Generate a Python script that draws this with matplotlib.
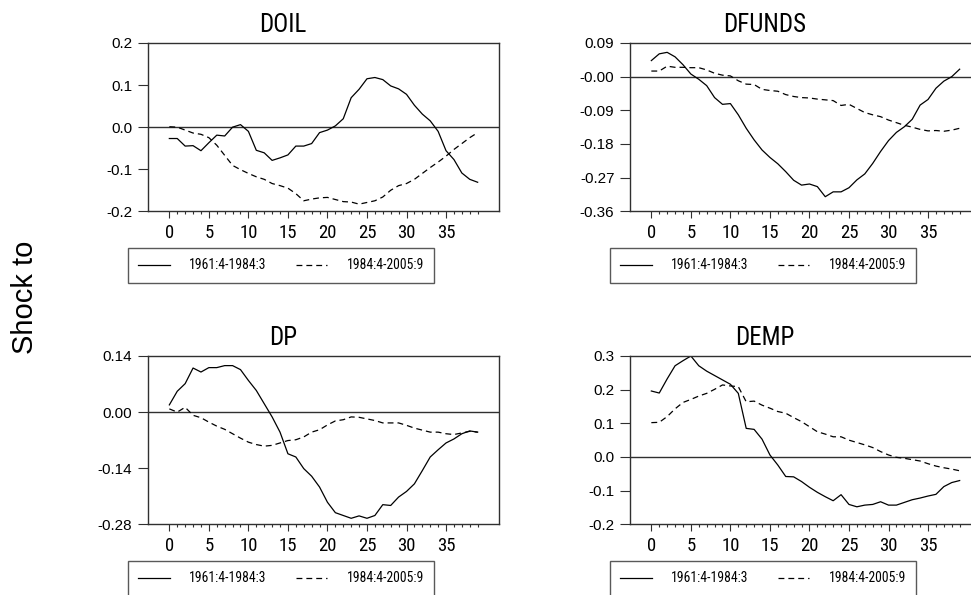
import numpy as np
import matplotlib.pyplot as plt

plt.rcParams["font.family"] = ["Roboto Condensed", "Liberation Sans", "DejaVu Sans"]

steps = np.arange(40)
period_labels = ["1961:4-1984:3", "1984:4-2005:9"]

# impulse responses
doil_early = [-0.027, -0.027, -0.045, -0.044, -0.056, -0.037, -0.019, -0.021, 0.000, 0.006,
              -0.010, -0.055, -0.061, -0.079, -0.073, -0.066, -0.045, -0.045, -0.039, -0.013,
              -0.007, 0.003, 0.020, 0.070, 0.090, 0.115, 0.118, 0.113, 0.098, 0.091,
              0.078, 0.052, 0.031, 0.015, -0.010, -0.056, -0.077, -0.109, -0.124, -0.131]
doil_late = [0.001, 0.000, -0.007, -0.014, -0.017, -0.025, -0.043, -0.067, -0.091, -0.101,
             -0.110, -0.118, -0.124, -0.134, -0.139, -0.145, -0.158, -0.175, -0.171, -0.168,
             -0.167, -0.172, -0.177, -0.178, -0.183, -0.179, -0.175, -0.166, -0.150, -0.139,
             -0.134, -0.124, -0.110, -0.096, -0.083, -0.069, -0.053, -0.039, -0.025, -0.013]

dfunds_early = [0.043, 0.061, 0.065, 0.053, 0.032, 0.007, -0.007, -0.024, -0.056, -0.074,
                -0.072, -0.102, -0.138, -0.169, -0.196, -0.216, -0.233, -0.254, -0.277, -0.290,
                -0.287, -0.294, -0.321, -0.308, -0.308, -0.297, -0.276, -0.260, -0.232, -0.200,
                -0.171, -0.149, -0.134, -0.114, -0.076, -0.061, -0.031, -0.012, 0.000, 0.020]
dfunds_late = [0.015, 0.015, 0.028, 0.025, 0.025, 0.024, 0.024, 0.018, 0.009, 0.004,
               0.002, -0.011, -0.020, -0.021, -0.034, -0.037, -0.039, -0.048, -0.053, -0.056,
               -0.057, -0.060, -0.062, -0.064, -0.077, -0.074, -0.085, -0.096, -0.102, -0.107,
               -0.116, -0.123, -0.130, -0.135, -0.141, -0.145, -0.144, -0.146, -0.143, -0.138]

dp_early = [0.018, 0.052, 0.071, 0.110, 0.100, 0.111, 0.111, 0.116, 0.116, 0.106,
            0.079, 0.054, 0.021, -0.012, -0.050, -0.104, -0.112, -0.141, -0.160, -0.187,
            -0.225, -0.251, -0.258, -0.265, -0.259, -0.265, -0.258, -0.231, -0.233, -0.212,
            -0.198, -0.179, -0.146, -0.112, -0.094, -0.077, -0.067, -0.054, -0.047, -0.050]
dp_late = [0.008, 0.000, 0.012, -0.008, -0.014, -0.025, -0.035, -0.043, -0.054, -0.065,
           -0.075, -0.081, -0.085, -0.083, -0.077, -0.071, -0.069, -0.062, -0.050, -0.044,
           -0.032, -0.022, -0.019, -0.012, -0.013, -0.017, -0.021, -0.027, -0.027, -0.027,
           -0.033, -0.040, -0.045, -0.050, -0.050, -0.054, -0.056, -0.052, -0.048, -0.050]

demp_early = [0.196, 0.190, 0.232, 0.271, 0.286, 0.300, 0.271, 0.255, 0.242, 0.229,
              0.216, 0.189, 0.085, 0.082, 0.053, 0.006, -0.024, -0.058, -0.059, -0.073,
              -0.090, -0.105, -0.118, -0.130, -0.112, -0.141, -0.148, -0.143, -0.141, -0.133,
              -0.143, -0.143, -0.135, -0.127, -0.122, -0.116, -0.111, -0.088, -0.076, -0.070]
demp_late = [0.102, 0.103, 0.120, 0.143, 0.162, 0.171, 0.181, 0.189, 0.201, 0.214,
             0.211, 0.209, 0.164, 0.166, 0.154, 0.145, 0.135, 0.130, 0.117, 0.105,
             0.090, 0.075, 0.068, 0.060, 0.060, 0.050, 0.043, 0.036, 0.028, 0.016,
             0.006, -0.001, -0.004, -0.008, -0.012, -0.020, -0.027, -0.032, -0.036, -0.041]

doil_ticks = [-0.2, -0.1, 0.0, 0.1, 0.2]
doil_ticklabels = ["-0.2", "-0.1", "0.0", "0.1", "0.2"]
dfunds_ticks = [-0.36, -0.27, -0.18, -0.09, 0.0, 0.09]
dfunds_ticklabels = ["-0.36", "-0.27", "-0.18", "-0.09", "-0.00", "0.09"]
dp_ticks = [-0.28, -0.14, 0.0, 0.14]
dp_ticklabels = ["-0.28", "-0.14", "0.00", "0.14"]
demp_ticks = [-0.2, -0.1, 0.0, 0.1, 0.2, 0.3]
demp_ticklabels = ["-0.2", "-0.1", "0.0", "0.1", "0.2", "0.3"]

W, H = 971.0, 595.0
fig = plt.figure(figsize=(9.71, 5.95), dpi=100)

frame_col = "#303030"
dash = (0, (4.7, 3.2))


def panel(left, top, title, early, late, yticks, ylabels):
    ax = fig.add_axes([left / W, 1 - (top + 168.3) / H, 351 / W, 168.3 / H])
    ax.plot(steps, early, color="black", lw=0.9, label=period_labels[0])
    ax.plot(steps, late, color="black", lw=0.9, linestyle=dash, label=period_labels[1])
    ax.axhline(0, color=frame_col, lw=1.0, zorder=1)
    ax.set_xlim(-2.7, 41.7)
    ax.set_ylim(yticks[0], yticks[-1])
    for s in ax.spines.values():
        s.set_color(frame_col)
        s.set_linewidth(1.0)
    ax.set_yticks(yticks)
    ax.set_yticklabels(ylabels, fontfamily="Liberation Sans", fontsize=11)
    ax.set_xticks(range(0, 40, 5))
    ax.set_xticklabels([str(v) for v in range(0, 40, 5)], fontsize=13.5)
    ax.set_xticks(range(40), minor=True)
    ax.tick_params(axis="y", direction="out", length=7.2, width=0.8, pad=4, color=frame_col)
    ax.tick_params(axis="x", which="major", direction="out", length=5, width=0.8, pad=4,
                   color=frame_col)
    ax.tick_params(axis="x", which="minor", direction="out", length=2.5, width=0.8,
                   color=frame_col)
    ax.text(0.384, 1.0 + 11 / 168.3, title, transform=ax.transAxes, ha="center",
            va="baseline", fontsize=18)
    leg = ax.legend(loc="center", bbox_to_anchor=(-0.057, -0.432, 0.872, 0.22),
                    mode="expand", ncol=2, frameon=True, fancybox=False, fontsize=9.8,
                    handlelength=2.3, handletextpad=1.4, borderpad=0.75,
                    borderaxespad=0)
    leg.get_frame().set_edgecolor(frame_col)
    leg.get_frame().set_linewidth(1.0)
    return ax


panel(148, 43, "DOIL", doil_early, doil_late, doil_ticks, doil_ticklabels)
panel(630, 43, "DFUNDS", dfunds_early, dfunds_late, dfunds_ticks, dfunds_ticklabels)
panel(148, 356, "DP", dp_early, dp_late, dp_ticks, dp_ticklabels)
panel(630, 356, "DEMP", demp_early, demp_late, demp_ticks, demp_ticklabels)

fig.text(0.026, 0.50, "Shock to", rotation=90, ha="center", va="center",
         fontfamily="Liberation Sans", fontsize=21)

fig.savefig("out.png", dpi=100)
